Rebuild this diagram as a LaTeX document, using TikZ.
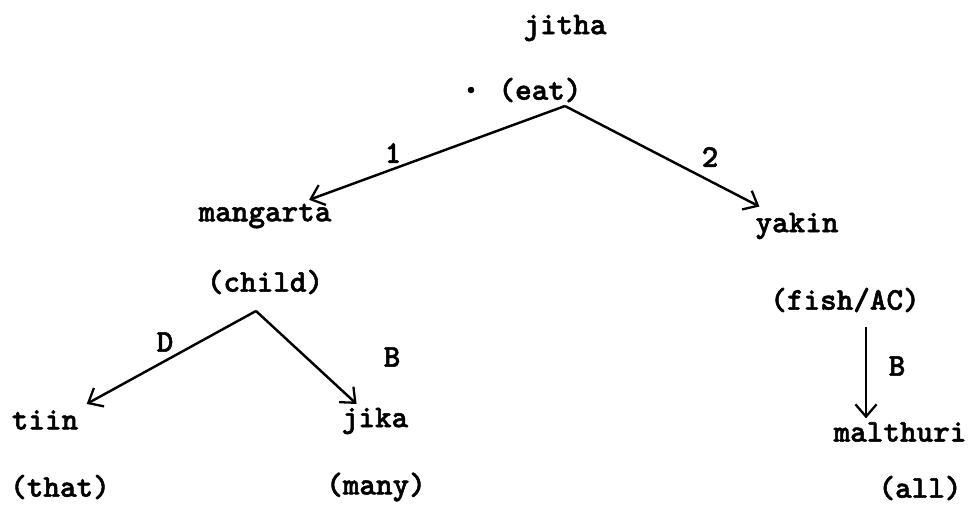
\documentclass[tikz,border=0pt]{standalone}
\usepackage{fontspec}
\usepackage{tikz}
\usetikzlibrary{arrows.meta}
\newfontfamily\twfont[FakeBold=1.6]{lmmonolt10-bold.otf}

\begin{document}
\begin{tikzpicture}[x=0.02cm,y=-0.02cm,
    word/.style={font=\fontsize{18}{20}\selectfont\twfont\bfseries,inner sep=2pt},
    lbl/.style={font=\fontsize{18}{20}\selectfont\twfont\bfseries,inner sep=0pt},
    link/.style={line width=1.4pt,-{Straight Barb[length=7pt,width=12pt,line width=1.3pt]}}]
\useasboundingbox (0,0) rectangle (968,514);
%Top word with its gloss, then each level of the tree below it
\node[word] (jitha) at (565,28) {jitha};
\node[word,font=\fontsize{24}{24}\selectfont\twfont\bfseries] (dot) at (471,90) {.};
\node[word] (eat) at (540,90) {(eat)};
\coordinate (eatfork) at (565,106);
% first level
\node[word] (mangarta) at (265,216) {mangarta};
\node[word] (child) at (265,282) {(child)};
\node[word] (yakin) at (797,226) {yakin};
\node[word] (fish) at (845,300) {(fish/AC)};
\coordinate (childfork) at (256,311);
\coordinate (fishfoot) at (866,327);
% second level
\node[word] (tiin) at (45,420) {tiin};
\node[word] (that) at (60,487) {(that)};
\node[word] (jika) at (375,421) {jika};
\node[word] (many) at (376,487) {(many)};
\node[word] (malthuri) at (900,432) {malthuri};
\node[word] (all) at (920,488) {(all)};
% the arcs, with their labels
\draw[link] (eatfork) -- (mangarta);
\draw[link,shorten >=3pt] (eatfork) -- (yakin);
\draw[link,shorten >=3pt] (childfork) -- (tiin.north east);
\draw[link] (childfork) -- (jika);
\draw[link] (fishfoot) -- (fishfoot |- malthuri.north);
\node[lbl] (one) at (393,153) {1};
\node[lbl] (two) at (710,157) {2};
\node[lbl] (dlab) at (165,342) {D};
\node[lbl] (blab) at (392,357) {B};
\node[lbl] (blabr) at (897,366) {B};
\end{tikzpicture}
\end{document}
